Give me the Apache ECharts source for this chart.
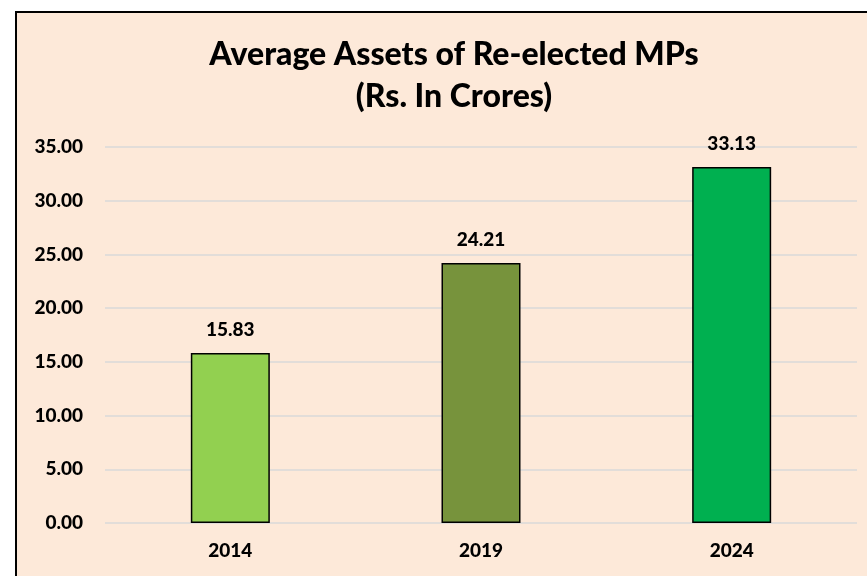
<!DOCTYPE html>
<html>
<head>
<meta charset="utf-8">
<script src="https://cdn.jsdelivr.net/npm/echarts@6/dist/echarts.min.js"></script>
<style>
  html, body { margin: 0; padding: 0; background: #ffffff; overflow: hidden; }
  .box {
    position: absolute; left: 15px; top: 11px; width: 900px; height: 600px;
    background: #FDE9D9; border-left: 2px solid #000; border-top: 2px solid #000;
  }
  #main { position: absolute; left: 0; top: 0; width: 867px; height: 576px; }
</style>
</head>
<body>
<div class="box"></div>
<div id="main"></div>
<script>
  var years = ['2014', '2019', '2024'];
  var assets = [15.83, 24.21, 33.13];
  var barColors = ['#92D050', '#77933C', '#00B050'];

  var chart = echarts.init(document.getElementById('main'));
  var font = 'Lato, "Open Sans", sans-serif';

  chart.setOption({
    backgroundColor: 'transparent',
    title: {
      text: 'Average Assets of Re-elected MPs\n(Rs. In Crores)',
      left: 449,
      top: 29,
      textAlign: 'center',
      textStyle: { fontFamily: font, fontSize: 32, fontWeight: 900, color: '#000', lineHeight: 42 }
    },
    grid: { left: 105, right: 10, top: 147, bottom: 53 },
    xAxis: {
      type: 'category',
      data: years,
      axisLine: { show: false },
      axisTick: { show: false },
      axisLabel: { margin: 18, fontFamily: font, fontSize: 19, fontWeight: 900, color: '#000' }
    },
    yAxis: {
      type: 'value',
      min: 0,
      max: 35,
      interval: 5,
      axisLine: { show: false },
      axisTick: { show: false },
      splitLine: { lineStyle: { color: '#D9D9D9', width: 1.5 } },
      axisLabel: {
        margin: 22, fontFamily: font, fontSize: 19, fontWeight: 900, color: '#000',
        formatter: function (v) { return v.toFixed(2); }
      }
    },
    series: [{
      type: 'bar',
      barWidth: 79,
      data: assets.map(function (v, i) {
        return { value: v, itemStyle: { color: barColors[i] } };
      }),
      itemStyle: { borderColor: '#000', borderWidth: 1.5 },
      label: {
        show: true, position: 'top', distance: 14,
        fontFamily: font, fontSize: 19, fontWeight: 900, color: '#000',
        formatter: function (p) { return p.value.toFixed(2); }
      }
    }]
  });
</script>
</body>
</html>
